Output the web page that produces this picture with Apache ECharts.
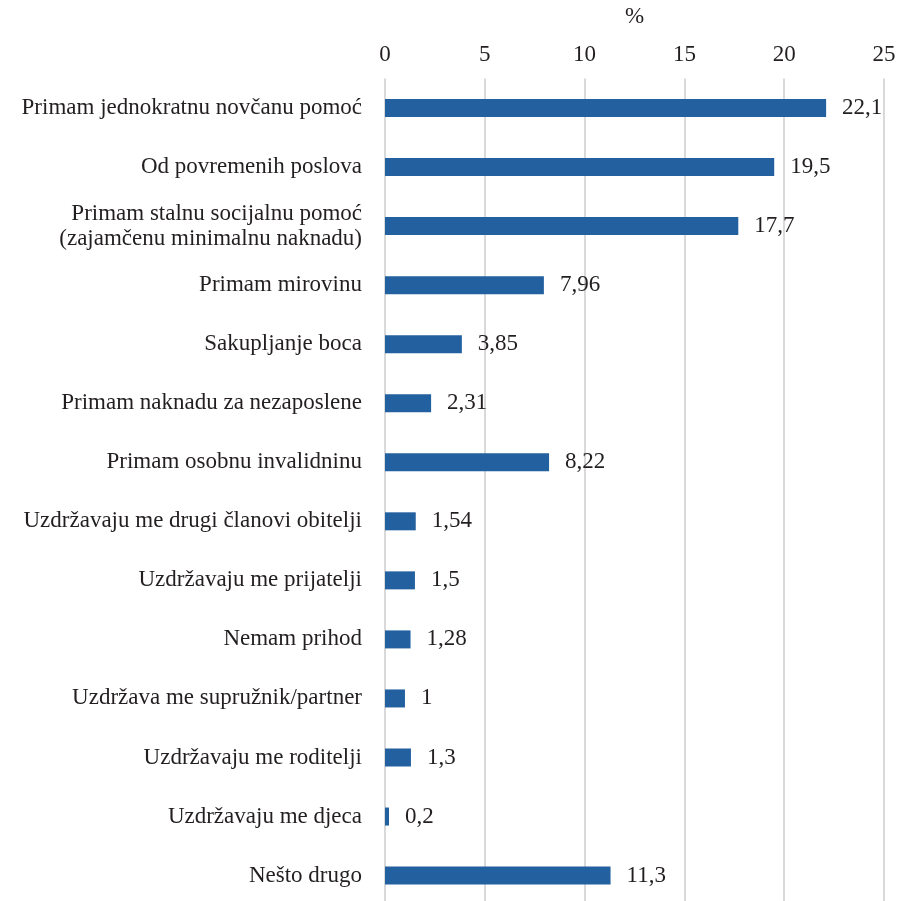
<!DOCTYPE html>
<html>
<head>
<meta charset="utf-8">
<script src="https://cdn.jsdelivr.net/npm/echarts@6/dist/echarts.min.js"></script>
<style>
  html, body { margin: 0; padding: 0; background: #fff; }
  #chart { width: 900px; height: 901px; }
</style>
</head>
<body>
<div id="chart"></div>
<script>
// Sources of income, share of respondents (%)
const categories = [
  'Primam jednokratnu novčanu pomoć',
  'Od povremenih poslova',
  'Primam stalnu socijalnu pomoć\n(zajamčenu minimalnu naknadu)',
  'Primam mirovinu',
  'Sakupljanje boca',
  'Primam naknadu za nezaposlene',
  'Primam osobnu invalidninu',
  'Uzdržavaju me drugi članovi obitelji',
  'Uzdržavaju me prijatelji',
  'Nemam prihod',
  'Uzdržava me supružnik/partner',
  'Uzdržavaju me roditelji',
  'Uzdržavaju me djeca',
  'Nešto drugo'
];
const values = [22.1, 19.5, 17.7, 7.96, 3.85, 2.31, 8.22, 1.54, 1.5, 1.28, 1, 1.3, 0.2, 11.3];
const axisTicks = [0, 5, 10, 15, 20, 25];

const FONT = '"Liberation Serif", "DejaVu Serif", serif';
const TEXT = '#231f20';
const SIZE = 23;

const chart = echarts.init(document.getElementById('chart'), null, { renderer: 'canvas' });
chart.setOption({
  animation: false,
  grid: {
    left: 385, right: 16, top: 78.5, height: 826.6,
    containLabel: false, outerBoundsMode: 'none'
  },
  xAxis: {
    type: 'value',
    position: 'top',
    min: axisTicks[0],
    max: axisTicks[axisTicks.length - 1],
    interval: axisTicks[1] - axisTicks[0],
    name: '%',
    nameLocation: 'middle',
    nameGap: 50,
    nameTextStyle: { fontFamily: FONT, fontSize: SIZE, color: TEXT },
    axisLine: { show: false },
    axisTick: { show: false },
    axisLabel: { fontFamily: FONT, fontSize: SIZE, color: TEXT, margin: 12 },
    splitLine: { show: true, lineStyle: { color: '#d9d9d9', width: 2 } }
  },
  yAxis: {
    type: 'category',
    inverse: true,
    data: categories,
    axisLine: { show: false },
    axisTick: { show: false },
    axisLabel: {
      fontFamily: FONT, fontSize: SIZE, color: TEXT, margin: 23,
      lineHeight: 25, align: 'right'
    }
  },
  series: [{
    type: 'bar',
    data: values,
    barWidth: 18,
    itemStyle: { color: '#22609f' },
    label: {
      show: true,
      position: 'right',
      distance: 16,
      fontFamily: FONT,
      fontSize: SIZE,
      color: TEXT,
      formatter: p => String(p.value).replace('.', ',')
    }
  }]
});
</script>
</body>
</html>
